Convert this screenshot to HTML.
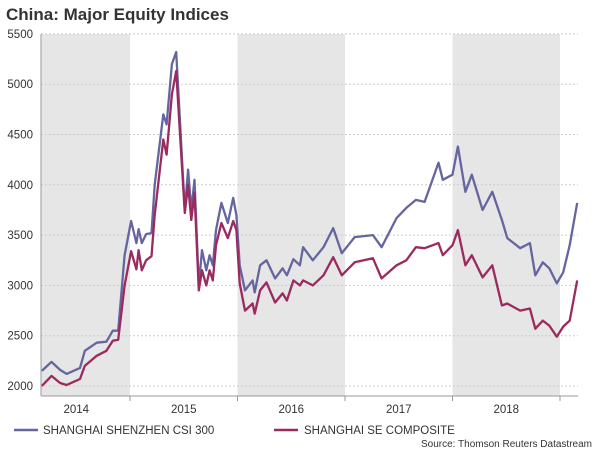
<!DOCTYPE html>
<html><head><meta charset="utf-8"><style>
body{margin:0;background:#fff;}
svg text{font-family:"Liberation Sans",Arial,sans-serif;}
</style></head><body>
<svg width="600" height="450" viewBox="0 0 600 450" id="c">
<text x="6" y="20" font-size="17" font-weight="bold" fill="#333">China: Major Equity Indices</text>
<g id="bands"></g><g id="grid"></g><g id="yt"></g><g id="xt"></g><g id="ser"></g>
<line x1="41" y1="34" x2="41" y2="396" stroke="#999"/>
<line x1="41" y1="396" x2="578" y2="396" stroke="#999"/>
<g><line x1="14" y1="430" x2="38" y2="430" stroke="#6565a0" stroke-width="2.5"/><text x="43" y="434" font-size="11.5" fill="#333">SHANGHAI SHENZHEN CSI 300</text></g>
<g><line x1="274" y1="430" x2="298" y2="430" stroke="#9b2a5e" stroke-width="2.5"/><text x="304" y="434" font-size="11.5" fill="#333">SHANGHAI SE COMPOSITE</text></g>
<text x="592" y="447" font-size="10" fill="#333" text-anchor="end">Source: Thomson Reuters Datastream</text>
</svg>
<script>
const times=[0.18,0.27,0.35,0.41,0.535,0.58,0.69,0.78,0.84,0.89,0.95,1.01,1.06,1.08,1.11,1.15,1.2,1.23,1.31,1.34,1.39,1.43,1.51,1.54,1.57,1.6,1.64,1.67,1.71,1.74,1.77,1.8,1.85,1.91,1.96,1.99,2.02,2.07,2.14,2.16,2.21,2.27,2.35,2.42,2.46,2.52,2.58,2.61,2.7,2.8,2.89,2.97,3.09,3.26,3.34,3.48,3.57,3.66,3.74,3.87,3.91,4.0,4.05,4.12,4.18,4.28,4.37,4.46,4.51,4.63,4.72,4.77,4.84,4.9,4.97,5.03,5.09,5.16];
const csi300=[2150,2240,2160,2120,2180,2350,2430,2440,2550,2550,3300,3640,3420,3560,3420,3510,3520,4000,4700,4600,5200,5320,3750,4150,3750,4050,3000,3350,3150,3300,3200,3550,3820,3620,3870,3700,3200,2950,3050,2930,3200,3250,3070,3170,3100,3260,3200,3380,3250,3380,3570,3320,3480,3500,3380,3670,3770,3850,3830,4220,4050,4100,4380,3930,4100,3750,3930,3650,3470,3370,3420,3100,3230,3170,3020,3130,3400,3820];
const sse=[2000,2100,2030,2010,2070,2200,2300,2350,2450,2460,3000,3340,3160,3350,3150,3250,3290,3700,4450,4300,4900,5130,3720,4000,3650,3920,2950,3150,3000,3150,3050,3400,3620,3470,3640,3550,3020,2750,2820,2720,2950,3030,2830,2920,2850,3050,3000,3050,3000,3100,3280,3100,3230,3270,3070,3200,3250,3380,3370,3420,3300,3400,3550,3200,3300,3080,3200,2800,2820,2750,2770,2570,2650,2600,2490,2590,2650,3050];
const yTicks=[2000,2500,3000,3500,4000,4500,5000,5500];
const years=["2014","2015","2016","2017","2018"];
const NS="http://www.w3.org/2000/svg";
const X=t=>22.5+t*107.5, Y=v=>386-(v-2000)*0.1006;
function mk(tag,attrs,parent,txt){const e=document.createElementNS(NS,tag);for(const k in attrs)e.setAttribute(k,attrs[k]);if(txt!==undefined)e.textContent=txt;document.getElementById(parent).appendChild(e);return e;}
[0,2,4].forEach(i=>{const x0=Math.max(41,X(i)),x1=X(i+1);
 const r=mk('rect',{x:x0,y:34,width:x1-x0,height:362,fill:'#e6e6e6'},'bands');
 
 });
yTicks.forEach(v=>{
 const l=mk('line',{x1:41,x2:578,y1:Y(v),y2:Y(v),stroke:'#ccc','stroke-dasharray':'2,2'},'grid');
 
 
 const t=mk('text',{x:33,y:Y(v)+4,'font-size':11.5,fill:'#333','text-anchor':'end'},'yt',String(v));
 
 });
years.forEach((y,i)=>{
 const t=mk('text',{x:X(i+0.5),y:413,'font-size':11.5,fill:'#333','text-anchor':'middle'},'xt',y);
 
 
 const k=mk('line',{x1:X(i+1),x2:X(i+1),y1:396,y2:401,stroke:'#999'},'xt');
 
 });
function line(vals,col,name){
 const p=mk('polyline',{points:vals.map((v,i)=>X(times[i]).toFixed(1)+','+Y(v).toFixed(1)).join(' '),fill:'none',stroke:col,'stroke-width':2.3,'stroke-linejoin':'round'},'ser');
 
 }
line(csi300,'#6565a0','csi300-line');
line(sse,'#9b2a5e','sse-composite-line');
</script>
</body></html>
